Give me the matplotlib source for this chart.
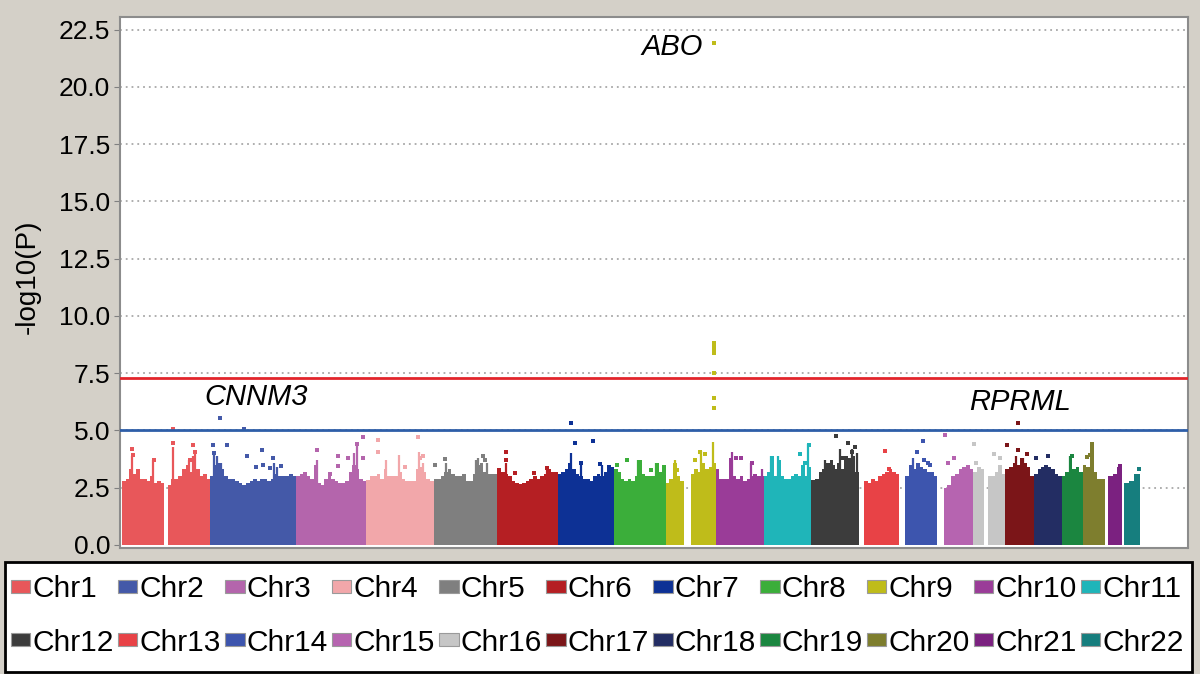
import matplotlib.pyplot as plt
import numpy as np
from matplotlib.patches import Patch, Rectangle

plt.rcParams["font.family"] = ["Liberation Sans", "DejaVu Sans"]

# chromosome lengths (Mb) and where the plotted SNPs start
chrom_names = [f"Chr{i}" for i in range(1, 23)]
chrom_len = [249.25, 243.2, 198.0, 191.15, 180.9, 171.1, 159.1, 146.4, 141.2, 135.5, 135.0,
             133.85, 115.2, 107.35, 102.5, 90.35, 81.2, 78.1, 59.1, 63.0, 48.1, 51.3]
data_start = [0, 0, 0, 0, 0, 0, 0, 0, 0, 0, 0, 0, 16, 17, 18, 0, 0, 0, 0, 0, 10, 5]
chrom_colors = ["#e8575a", "#4459a8", "#b465ac", "#f2a7aa", "#7f7f7f", "#b51f23", "#0d3195",
                "#3bae3a", "#bfbc1a", "#9a3c98", "#1fb5b9", "#3c3c3c", "#e84246", "#3d55ae",
                "#b664b0", "#c6c6c6", "#7b1518", "#232d63", "#1b8640", "#7e7e2e", "#7b2180",
                "#167e7e"]

# upper envelope of the dense SNP cloud, evenly binned over each chromosome (0 = gap)
base_heights = [
    [2.8, 2.9, 3.3, 3.1, 3.3, 2.9, 2.9, 2.8, 3.0, 2.7, 2.8, 2.7, 0, 2.6, 2.9, 2.9, 3.0, 3.3, 3.5, 3.2, 3.1, 3.3, 3.0, 3.1, 2.9],
    [3.0, 3.5, 3.6, 3.3, 3.0, 2.9, 2.9, 2.8, 2.7, 2.6, 2.7, 2.8, 2.9, 2.8, 2.9, 2.9, 2.8, 2.9, 3.1, 3.0, 3.0, 3.0, 3.1, 3.0],
    [3.0, 3.1, 3.2, 3.0, 2.9, 3.5, 2.7, 2.6, 2.9, 3.0, 2.9, 2.8, 2.7, 2.7, 2.8, 3.2, 3.5, 3.3, 2.9, 2.8],
    [2.85, 3.0, 3.0, 3.1, 2.9, 3.3, 3.0, 3.0, 3.0, 3.2, 2.9, 2.8, 2.8, 2.8, 3.3, 3.4, 3.2, 2.9, 2.8],
    [2.9, 2.9, 3.0, 3.2, 3.3, 3.1, 3.0, 3.0, 3.1, 2.8, 2.8, 3.1, 3.5, 3.6, 3.2, 3.1, 3.1, 3.1],
    [3.35, 3.2, 3.1, 3.0, 2.8, 2.7, 2.65, 2.7, 2.8, 2.9, 3.0, 2.9, 3.0, 3.1, 3.3, 3.2, 3.2],
    [3.1, 3.2, 3.3, 3.6, 3.3, 3.1, 3.0, 2.9, 2.9, 2.8, 3.0, 3.1, 3.0, 3.2, 3.3, 3.4],
    [3.3, 3.2, 2.9, 2.8, 2.9, 2.8, 3.0, 3.7, 3.1, 3.0, 3.0, 3.0, 3.6, 3.2, 3.3],
    [2.7, 2.9, 3.6, 3.0, 2.8, 0, 0, 3.1, 3.3, 3.2, 3.6, 3.3, 3.4, 3.6],
    [3.3, 2.9, 2.9, 2.9, 3.8, 3.0, 2.9, 3.0, 2.8, 2.9, 3.0, 3.1, 3.0, 3.0],
    [3.0, 3.2, 3.9, 3.0, 3.7, 3.0, 2.9, 2.9, 3.0, 3.1, 3.0, 3.5, 3.0, 3.4],
    [2.85, 2.9, 3.2, 3.3, 3.6, 3.7, 3.3, 3.6, 3.3, 3.9, 3.8, 3.9, 3.2],
    [2.8, 2.7, 2.9, 2.8, 3.0, 3.1, 3.2, 3.3, 3.2, 3.1],
    [3.0, 3.5, 3.3, 3.6, 3.4, 3.3, 3.2, 3.2, 3.0],
    [2.5, 2.6, 3.0, 3.1, 3.3, 3.4, 3.5, 3.3],
    [3.2, 3.4, 3.3, 0, 3.0, 3.0, 3.2, 3.5, 3.1],
    [3.3, 3.4, 3.6, 3.5, 3.8, 3.6, 3.4, 3.0],
    [3.1, 3.3, 3.4, 3.5, 3.4, 3.3, 3.1, 3.0],
    [3.0, 3.2, 3.9, 3.3, 3.4, 3.2],
    [3.5, 3.4, 4.5, 3.2, 2.9, 2.9],
    [3.0, 3.1, 3.4],
    [2.7, 2.8, 3.1],
]

# taller single SNP columns (position in Mb within chromosome, -log10 P)
spikes = {
    1: [(27, 3.9), (88, 3.7), (145, 4.3), (190, 3.7), (200, 3.9), (207, 4.1)],
    2: [(10, 4.0), (18, 3.9), (30, 3.6), (180, 3.6), (190, 3.4)],
    3: [(60, 3.7), (172, 4.4), (165, 4.0)],
    4: [(56, 3.7), (94, 3.95), (150, 4.05), (160, 3.6)],
    5: [(35, 3.6), (120, 3.7), (127, 3.8), (150, 3.6)],
    6: [(24, 3.6), (140, 3.3)],
    7: [(36, 4.0), (66, 3.6), (125, 3.5)],
    8: [(68, 3.7), (118, 3.6)],
    9: [(25, 3.7), (100, 4.1), (134, 4.5)],
    10: [(46, 4.05), (100, 3.6), (130, 3.3)],
    11: [(22, 3.9), (40, 3.9), (125, 4.4)],
    12: [(40, 3.7), (80, 4.2), (115, 4.2), (130, 4.0)],
    14: [(40, 3.8)],
    17: [(30, 3.9), (50, 3.8)],
    19: [(25, 3.9)],
    20: [(27, 4.5)],
}

# isolated SNPs above the cloud
dots = {
    1: [(29, 4.2), (31, 3.95), (145, 5.05), (145, 4.45), (202, 4.35), (207, 4.05), (191, 3.7), (89, 3.7)],
    2: [(29, 5.53), (96, 5.05), (8, 4.37), (47, 4.37), (104, 3.88), (146, 4.15), (179, 3.78),
        (10, 4.03), (130, 3.4), (150, 3.5), (170, 3.35), (200, 3.45)],
    3: [(59, 4.15), (120, 3.9), (120, 3.43), (148, 3.8), (188, 4.72), (172, 4.4), (188, 3.8), (96, 3.1)],
    4: [(34, 4.6), (34, 4.05), (146, 4.72), (162, 3.9), (152, 3.8), (110, 3.4)],
    5: [(5, 3.5), (33, 3.75), (145, 3.72), (140, 3.9)],
    6: [(24, 4.07), (24, 3.71), (49, 3.13), (104, 3.13), (140, 3.35)],
    7: [(36, 5.31), (49, 4.47), (98, 4.54), (66, 3.6), (119, 3.54), (144, 3.42)],
    8: [(8, 3.49), (36, 3.71), (104, 3.28), (141, 3.42)],
    9: [(136, 21.94), (136, 8.8), (136, 8.65), (136, 8.5), (136, 8.38), (136, 7.52), (136, 6.42),
        (136, 5.98), (96, 4.07), (110, 3.97), (82, 3.71), (31, 3.28)],
    10: [(71, 3.78), (102, 3.6), (57, 3.8)],
    11: [(102, 3.97), (116, 3.6), (128, 4.37)],
    12: [(71, 4.77), (104, 4.47), (125, 4.29), (115, 4.07), (87, 3.78), (60, 3.42)],
    13: [(76, 4.1), (85, 3.3)],
    14: [(68, 4.56), (49, 4.05), (70, 3.7), (80, 3.6), (88, 3.5)],
    15: [(22, 4.82), (31, 3.6), (48, 3.8)],
    16: [(1, 4.4), (6, 3.6), (58, 3.97), (75, 3.8)],
    17: [(37, 5.31), (6, 4.37), (37, 4.15), (60, 3.97)],
    18: [(6, 3.78), (40, 3.9)],
    19: [(30, 3.9)],
    20: [(12, 3.82), (22, 3.95)],
    21: [(42, 3.43)],
    22: [(48, 3.3)],
}

genome_line = 7.3
suggestive_line = 5.0
labels = [("ABO", 9, 136), ("CNNM3", 2, 96), ("RPRML", 17, 37)]

BG = "#d4d0c8"
offsets = np.concatenate([[0], np.cumsum(chrom_len)[:-1]])

fig = plt.figure(figsize=(12, 6.74), dpi=100, facecolor=BG)
ax = fig.add_axes([0.1, 0.187, 0.89, 0.788])
ax.set_facecolor("white")

for i, (name, color) in enumerate(zip(chrom_names, chrom_colors)):
    off = offsets[i]
    h = np.array(base_heights[i])
    edges = off + np.linspace(data_start[i], chrom_len[i], len(h) + 1)
    ax.stairs(h, edges, fill=True, color=color, baseline=0, zorder=2)
    for pos, top in spikes.get(i + 1, []):
        ax.vlines(off + pos, 0, top, color=color, lw=1.6, zorder=2)
    pts = dots.get(i + 1, [])
    if pts:
        px, py = zip(*pts)
        ax.scatter(off + np.array(px), py, marker="s", s=5, color=color, lw=0, zorder=3)

ax.axhline(genome_line, color="#e2252b", lw=2, zorder=4)
ax.axhline(suggestive_line, color="#2e5ea8", lw=2, zorder=4)

label_dx = {"ABO": -31, "CNNM3": 33, "RPRML": 5}
label_y = {"ABO": 21.75, "CNNM3": 6.46, "RPRML": 6.24}
for text, c, pos in labels:
    x = offsets[c - 1] + pos + label_dx[text]
    ha = "right" if text == "ABO" else "center"
    ax.text(x, label_y[text], text, fontsize=21, style="italic", ha=ha, va="center", zorder=5)

ax.set_xlim(-6, 3017)
ax.set_ylim(-0.13, 23.06)
yt = np.arange(0, 22.6, 2.5)
ax.set_yticks(yt)
ax.set_yticklabels([f"{v:.1f}" for v in yt], fontsize=19)
ax.set_xticks([])
ax.tick_params(axis="y", length=4, color="#808080", pad=3)
ax.set_ylabel("-log10(P)", fontsize=20)
ax.yaxis.set_label_coords(-0.074, 0.51)
for g in yt[1:]:
    ax.axhline(g, color="#a8a8a8", lw=1.3, ls=(0, (1, 2.2)), zorder=1)
for s in ax.spines.values():
    s.set_color("#8c8c8c")
    s.set_linewidth(1.5)

# legend box drawn on its own; legend fills column by column, so interleave the rows
fig.patches.append(Rectangle((0.004, 0.003), 0.989, 0.163, transform=fig.transFigure,
                             facecolor="white", edgecolor="black", lw=2))
handles = [Patch(facecolor=c, edgecolor="#9a9a9a", lw=0.8, label=n)
           for n, c in zip(chrom_names, chrom_colors)]
ordered = [h for pair in zip(handles[:11], handles[11:]) for h in pair]
fig.legend(handles=ordered, ncol=11, loc="lower left", mode="expand",
           bbox_to_anchor=(-0.002, 0.006, 1.0, 0.16), fontsize=21.5,
           handlelength=0.65, handleheight=0.3, handletextpad=0.08,
           labelspacing=0.85, borderpad=0.45, borderaxespad=0, columnspacing=0.2,
           frameon=False)

fig.savefig("out.png", dpi=100, facecolor=BG)
